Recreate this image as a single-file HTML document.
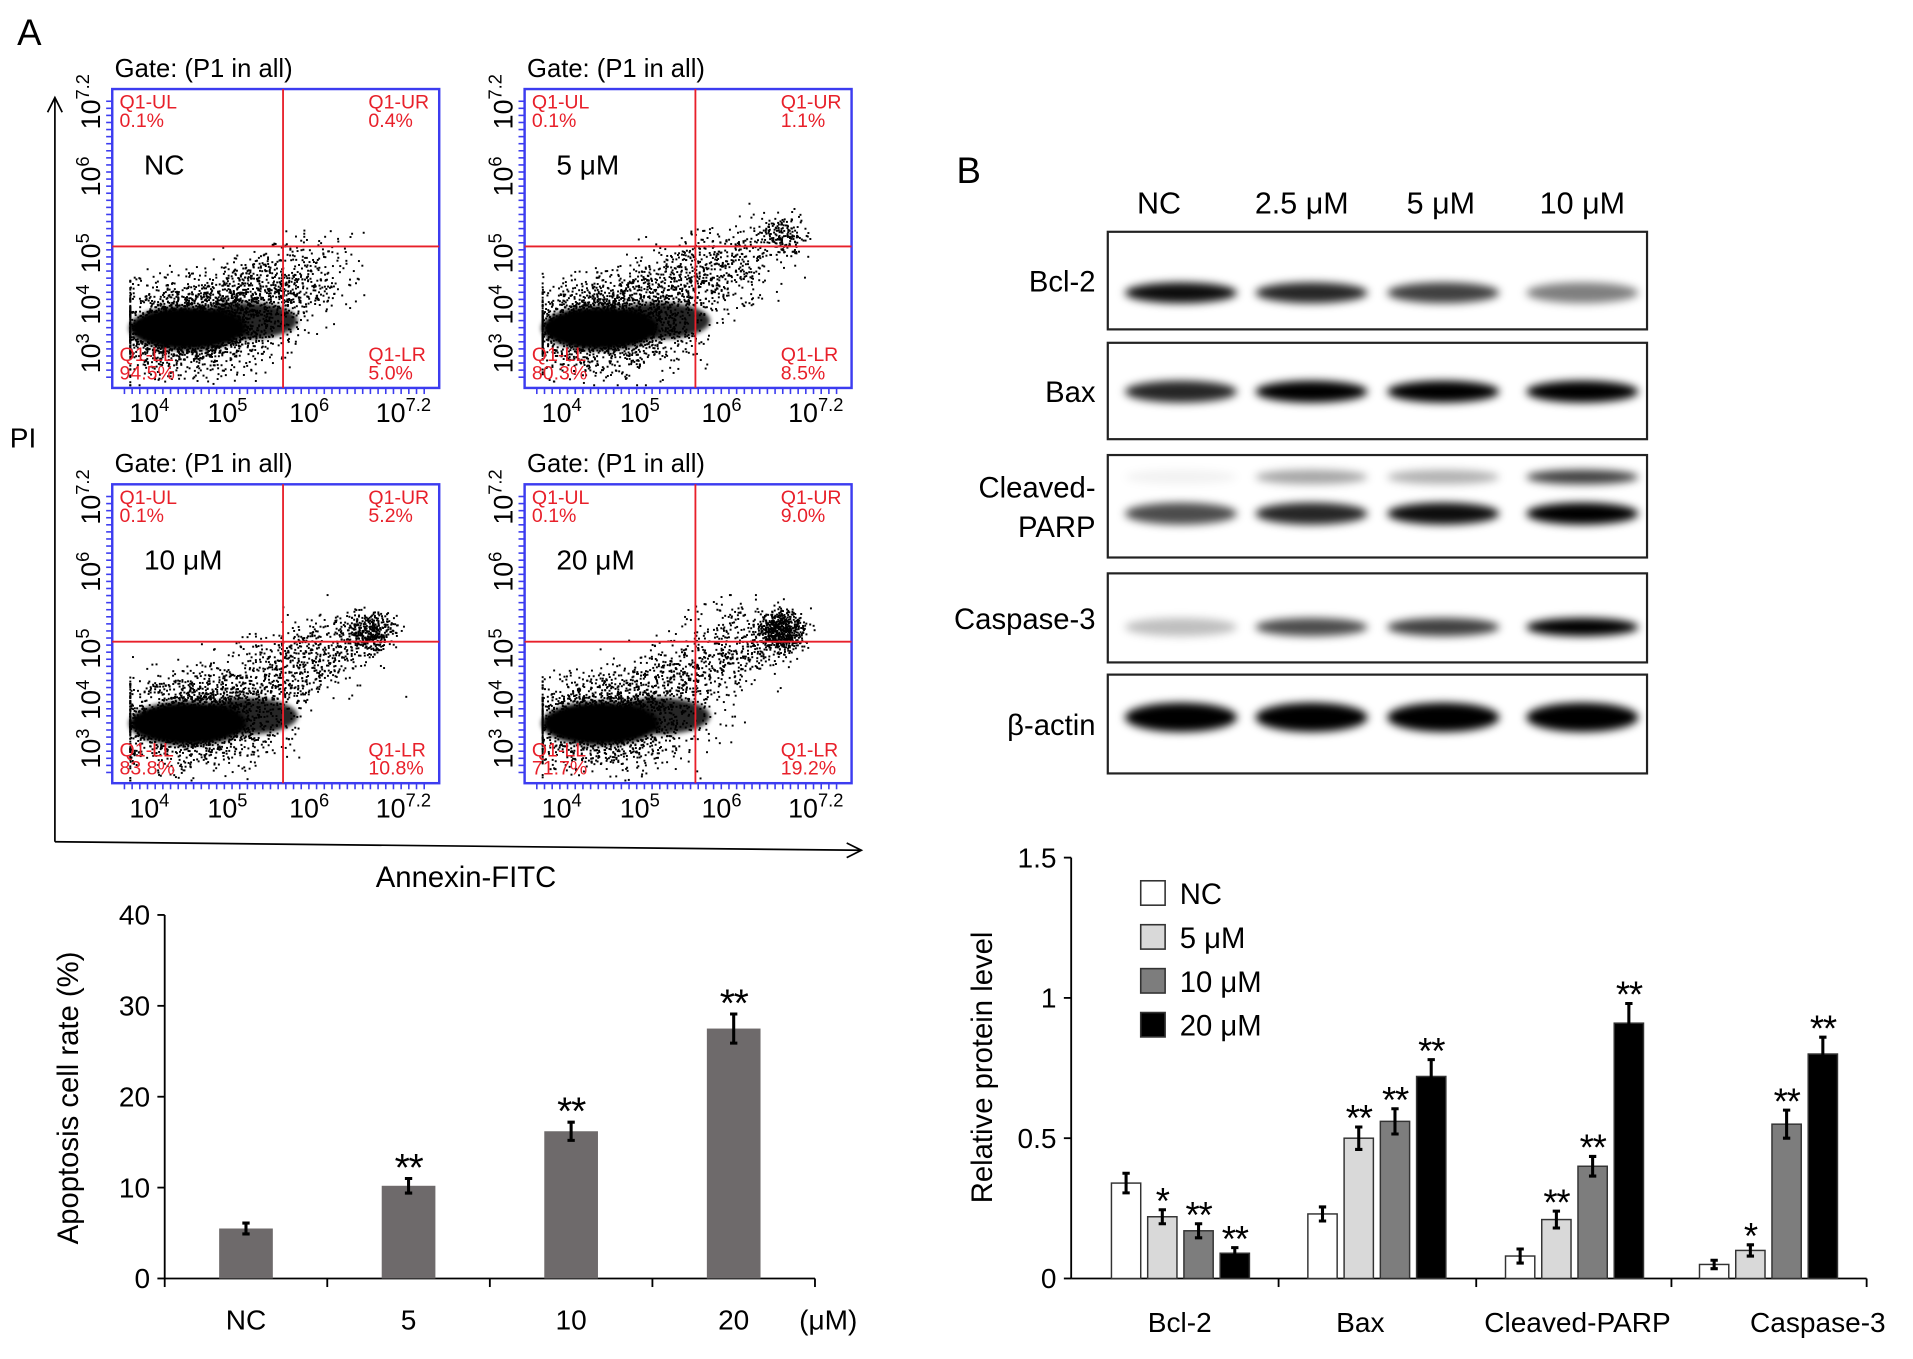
<!DOCTYPE html>
<html><head><meta charset="utf-8"><style>
html,body{margin:0;padding:0;background:#fff;}
svg{display:block;font-family:"Liberation Sans",Arial,sans-serif;}
</style></head><body>
<svg id="fig" width="1913" height="1359" viewBox="0 0 1568 1114" preserveAspectRatio="none" xmlns="http://www.w3.org/2000/svg">
<defs>
<filter id="blur3" x="-20%" y="-100%" width="140%" height="300%"><feGaussianBlur stdDeviation="3.5"/></filter>
<filter id="blur1" x="-20%" y="-50%" width="140%" height="200%"><feGaussianBlur stdDeviation="2"/></filter>
</defs>
<text x="14" y="37" font-size="30">A</text>
<text x="784" y="150" font-size="30">B</text>
<g id="flow"></g>
<g id="blot"></g>
<g id="barA"></g>
<g id="barB"></g>
</svg>
<script>
// ---------- Chart A data ----------
const aCategories = ["NC","5","10","20"];
const aValues = [5.5, 10.2, 16.2, 27.5];
const aErrors = [0.6, 0.8, 1.0, 1.6];
const aStars = ["","**","**","**"];
const aTicks = [0,10,20,30,40];

// ---------- Chart B data ----------
const bCategories = ["Bcl-2","Bax","Cleaved-PARP","Caspase-3"];
const bSeries = ["NC","5 μM","10 μM","20 μM"];
const bNC   = [0.34, 0.23, 0.08, 0.05];
const b5    = [0.22, 0.50, 0.21, 0.10];
const b10   = [0.17, 0.56, 0.40, 0.55];
const b20   = [0.09, 0.72, 0.91, 0.80];
const bErrNC = [0.035, 0.025, 0.025, 0.015];
const bErr5  = [0.025, 0.04, 0.03, 0.02];
const bErr10 = [0.025, 0.045, 0.035, 0.05];
const bErr20 = [0.02, 0.06, 0.07, 0.06];
const bStars5  = ["*","**","**","*"];
const bStars10 = ["**","**","**","**"];
const bStars20 = ["**","**","**","**"];
const bTicks = [0, 0.5, 1, 1.5];
const bTickLabels = ["0","0.5","1","1.5"];

// ---------- Flow data ----------
const flowLabels = ["NC","5 μM","10 μM","20 μM"];
const flowUL = ["0.1%","0.1%","0.1%","0.1%"];
const flowUR = ["0.4%","1.1%","5.2%","9.0%"];
const flowLL = ["94.5%","80.3%","83.8%","71.7%"];
const flowLR = ["5.0%","8.5%","10.8%","19.2%"];

const NS="http://www.w3.org/2000/svg";
function mk(tag, attrs, parent, txt){
  const e=document.createElementNS(NS,tag);
  for(const k in attrs) e.setAttribute(k, attrs[k]);
  if(txt!==undefined) e.textContent=txt;
  parent.appendChild(e); return e;
}

// ================= FLOW =================
(function(){
  const g=document.getElementById('flow');
  const boxes=[[92,73],[430,73],[92,397],[430,397]];
  const W=268,H=245;
  let seed=7;
  function rnd(){seed=(seed*16807)%2147483647;return seed/2147483647;}
  function gauss(){return (rnd()+rnd()+rnd()+rnd()-2)/0.58;}
  const spread=[0.15,0.35,0.45,0.6];
  for(let i=0;i<4;i++){
    const [x0,y0]=boxes[i];
    const t=mk('text',{x:x0+2,y:y0-10,'font-size':21},g,'Gate: (P1 in all)');
    
    
    const dg=mk('g',{fill:'#000'},g);
    
    
    const n=3000;
    for(let k=0;k<n;k++){
      let u=rnd(); let px,py;
      if(u<0.55){ px=x0+65+gauss()*35; py=y0+195+gauss()*18; }
      else { const s=rnd(); const len=120+spread[i]*70;
        px=x0+40+s*len+gauss()*20; py=y0+200-s*(40+spread[i]*70)+gauss()*16; }
      if(i>0 && rnd()<0.06*i){ px=x0+210+gauss()*10; py=y0+120+gauss()*8; }
      px=Math.max(x0+14,Math.min(x0+W-20,px)); py=Math.max(y0+90,Math.min(y0+H-3,py));
      mk('rect',{x:px.toFixed(1),y:py.toFixed(1),width:1.6,height:1.6},dg);
    }
    const bl=mk('g',{filter:'url(#blur1)'},dg);
    mk('ellipse',{cx:x0+62,cy:y0+196,rx:48,ry:18,fill:'#000'},bl);
    mk('ellipse',{cx:x0+110,cy:y0+190,rx:42,ry:15,fill:'#000',opacity:0.85},bl);
    const b=mk('rect',{x:x0,y:y0,width:W,height:H,fill:'none',stroke:'#3c3cf0','stroke-width':2},g);
    
    
    for(let k=0;k<40;k++){ mk('line',{x1:x0-5,x2:x0,y1:y0+10+k*5.8,y2:y0+10+k*5.8,stroke:'#3c3cf0','stroke-width':1.3},g);
      mk('line',{x1:x0+10+k*6.3,x2:x0+10+k*6.3,y1:y0+H,y2:y0+H+5,stroke:'#3c3cf0','stroke-width':1.3},g);}
    const qy=y0+129, qx=x0+140;
    mk('line',{x1:x0,x2:x0+W,y1:qy,y2:qy,stroke:'#e8202a','stroke-width':1.5},g);
    mk('line',{x1:qx,x2:qx,y1:y0,y2:y0+H,stroke:'#e8202a','stroke-width':1.5},g);
    const red={fill:'#e8202a','font-size':16};
    [[x0+6,y0+16,'Q1-UL'],[x0+6,y0+31,flowUL[i]],[x0+W-58,y0+16,'Q1-UR'],[x0+W-58,y0+31,flowUR[i]],
     [x0+6,y0+H-22,'Q1-LL'],[x0+6,y0+H-7,flowLL[i]],[x0+W-58,y0+H-22,'Q1-LR'],[x0+W-58,y0+H-7,flowLR[i]]].forEach(a=>{
      const q=mk('text',Object.assign({x:a[0],y:a[1]},red),g,a[2]);
      
      
    });
    const lb=mk('text',{x:x0+26,y:y0+70,'font-size':23},g,flowLabels[i]);
    
    
    [['10','4',x0+14],['10','5',x0+78],['10','6',x0+145],['10','7.2',x0+216]].forEach(a=>{
      const tx=mk('text',{x:a[2],y:y0+H+28,'font-size':22},g);
      
      
      mk('tspan',{},tx,a[0]); mk('tspan',{dy:-9,'font-size':15},tx,a[1]);
    });
    const yg=mk('g',{transform:`translate(${x0-10},${y0+H-12}) rotate(-90)`},g);
    
    
    [['10','3',0],['10','4',40],['10','5',82],['10','6',145],['10','7.2',200]].forEach(a=>{
      const tx=mk('text',{x:a[2],y:0,'font-size':22},yg);
      mk('tspan',{},tx,a[0]); mk('tspan',{dy:-9,'font-size':15},tx,a[1]);
    });
  }
  const ax=mk('g',{stroke:'#000','stroke-width':1.4,fill:'none'},g);
  
  
  mk('line',{x1:45,y1:690,x2:45,y2:80},ax);
  mk('polyline',{points:'39,92 45,80 51,92'},ax);
  mk('line',{x1:45,y1:690,x2:706,y2:697},ax);
  mk('polyline',{points:'694,691 706,697 694,703'},ax);
  const pi=mk('text',{x:8,y:367,'font-size':23},g,'PI');
  
  
  const an=mk('text',{x:308,y:727,'font-size':24},g,'Annexin-FITC');
  
  
})();

// ================= BLOT =================
const blotRows = ["Bcl-2","Bax","Cleaved-PARP","Caspase-3","β-actin"];
const laneLabels = ["NC","2.5 μM","5 μM","10 μM"];
(function(){
  const g=document.getElementById('blot');
  const lanes=[968,1075,1183,1297];
  const labelX=[950,1067,1181,1297];
  laneLabels.forEach((l,i)=>{
    const t=mk('text',{x:labelX[i],y:175,'font-size':25,'text-anchor':'middle'},g,l);
    
    
  });
  const rows=[[190,270],[281,360],[373,457],[470,543],[553,634]];
  const bands=[
    [[50,13,[0.95,0.85,0.75,0.5]]],
    [[40,14,[0.85,1,1,1]]],
    [[18,8,[0.05,0.35,0.3,0.75]],[48,14,[0.7,0.85,0.95,1]]],
    [[44,11,[0.25,0.7,0.75,1]]],
    [[35,20,[1,1,1,1]]]
  ];
  rows.forEach((r,ri)=>{
    const bg=mk('g',{filter:'url(#blur3)'},g);
    
    
    bands[ri].forEach(b=>{
      lanes.forEach((lx,li)=>{
        mk('ellipse',{cx:lx,cy:r[0]+b[0],rx:46,ry:b[1]/2+2,fill:'#000',opacity:b[2][li]},bg);
      });
    });
    const fr=mk('rect',{x:908,y:r[0],width:442,height:r[1]-r[0],fill:'none',stroke:'#222','stroke-width':1.8},g);
    
    
    const lines=blotRows[ri]==="Cleaved-PARP"?["Cleaved-","PARP"]:[blotRows[ri]];
    lines.forEach((ln,k)=>{
      const t=mk('text',{x:898,y:(r[0]+r[1])/2+9+(lines.length>1?(k*32-16):0),'font-size':24,'text-anchor':'end'},g,ln);
      
      
    });
  });
})();

// ================= BAR A =================
(function(){
  const g=document.getElementById('barA');
  const x0=135,x1=668,yTop=750,yBot=1048,ymax=40;
  const y=v=>yBot-(v/ymax)*(yBot-yTop);
  const step=(x1-x0)/aCategories.length;
  const xc=i=>x0+step*(i+0.5);
  mk('line',{x1:x0,x2:x0,y1:yTop,y2:yBot,stroke:'#000','stroke-width':1.5},g);
  mk('line',{x1:x0,x2:x1,y1:yBot,y2:yBot,stroke:'#000','stroke-width':1.5},g);
  aTicks.forEach(t=>{
    mk('line',{x1:x0-6,x2:x0,y1:y(t),y2:y(t),stroke:'#000','stroke-width':1.5},g);
    const tl=mk('text',{x:x0-12,y:y(t)+8,'font-size':23,'text-anchor':'end'},g,String(t));
    
    
  });
  for(let i=0;i<=aCategories.length;i++){ const xx=x0+step*i; mk('line',{x1:xx,x2:xx,y1:yBot,y2:yBot+7,stroke:'#000','stroke-width':1.5},g);}
  aValues.forEach((v,i)=>{
    const bw=44;
    const r=mk('rect',{x:xc(i)-bw/2,y:y(v),width:bw,height:yBot-y(v),fill:'#6e6a6b'},g);
    
    
    const e=aErrors[i];
    mk('path',{d:`M${xc(i)} ${y(v+e)}V${y(v-e)}M${xc(i)-3} ${y(v+e)}H${xc(i)+3}M${xc(i)-3} ${y(v-e)}H${xc(i)+3}`,stroke:'#000','stroke-width':2.5,fill:'none'},g);
    if(aStars[i]){ const s=mk('text',{x:xc(i),y:y(v+e)+2,'font-size':32,'text-anchor':'middle','letter-spacing':'-1'},g,aStars[i]);
      
       }
    const cl=mk('text',{x:xc(i),y:1090,'font-size':23,'text-anchor':'middle'},g,aCategories[i]);
    
    
  });
  const u=mk('text',{x:655,y:1090,'font-size':23},g,'(μM)');
  
  
  const yt=mk('text',{transform:'translate(64,900) rotate(-90)','font-size':24,'text-anchor':'middle'},g,'Apoptosis cell rate (%)');
  
  
})();

// ================= BAR B =================
(function(){
  const g=document.getElementById('barB');
  const x0=878,x1=1530,yTop=703,yBot=1048,ymax=1.5;
  const y=v=>yBot-(v/ymax)*(yBot-yTop);
  const gStarts=[911,1072,1234,1393];
  const labelX=[967,1115,1293,1490];
  const pitch=29.7,bw=24;
  const series=[bNC,b5,b10,b20];
  const errs=[bErrNC,bErr5,bErr10,bErr20];
  const stars=[null,bStars5,bStars10,bStars20];
  const fills=['#ffffff','#d9d9d9','#7d7d7d','#000000'];
  mk('line',{x1:x0,x2:x0,y1:yTop,y2:yBot,stroke:'#000','stroke-width':1.5},g);
  mk('line',{x1:x0,x2:x1,y1:yBot,y2:yBot,stroke:'#000','stroke-width':1.5},g);
  [1048,1210,1370,1530].forEach(xx=>mk('line',{x1:xx,x2:xx,y1:yBot,y2:yBot+7,stroke:'#000','stroke-width':1.5},g));
  bTicks.forEach((t,i)=>{
    mk('line',{x1:x0-6,x2:x0,y1:y(t),y2:y(t),stroke:'#000','stroke-width':1.5},g);
    const tl=mk('text',{x:x0-12,y:y(t)+8,'font-size':23,'text-anchor':'end'},g,bTickLabels[i]);
    
    
  });
  bCategories.forEach((c,ci)=>{
    series.forEach((s,si)=>{
      const cx=gStarts[ci]+si*pitch+bw/2, v=s[ci], e=errs[si][ci];
      const r=mk('rect',{x:cx-bw/2,y:y(v),width:bw,height:yBot-y(v),fill:fills[si],stroke:'#333','stroke-width':1.2},g);
      
      
      mk('path',{d:`M${cx} ${y(v+e)}V${y(v-e)}M${cx-3} ${y(v+e)}H${cx+3}M${cx-3} ${y(v-e)}H${cx+3}`,stroke:'#000','stroke-width':2.5,fill:'none'},g);
      if(stars[si]){ const st=mk('text',{x:cx,y:y(v+e)+3,'font-size':30,'text-anchor':'middle','letter-spacing':'-1'},g,stars[si][ci]);
        
         }
    });
    const cl=mk('text',{x:labelX[ci],y:1092,'font-size':23,'text-anchor':'middle'},g,c);
    
    
  });
  bSeries.forEach((s,i)=>{
    const lg=mk('g',{},g);
    
    
    mk('rect',{x:935,y:722+i*36,width:20,height:20,fill:fills[i],stroke:'#333','stroke-width':1.3},lg);
    mk('text',{x:967,y:741+i*36,'font-size':24},lg,s);
  });
  const yt=mk('text',{transform:'translate(813,875) rotate(-90)','font-size':24,'text-anchor':'middle'},g,'Relative protein level');
  
  
})();
</script>
</body></html>
